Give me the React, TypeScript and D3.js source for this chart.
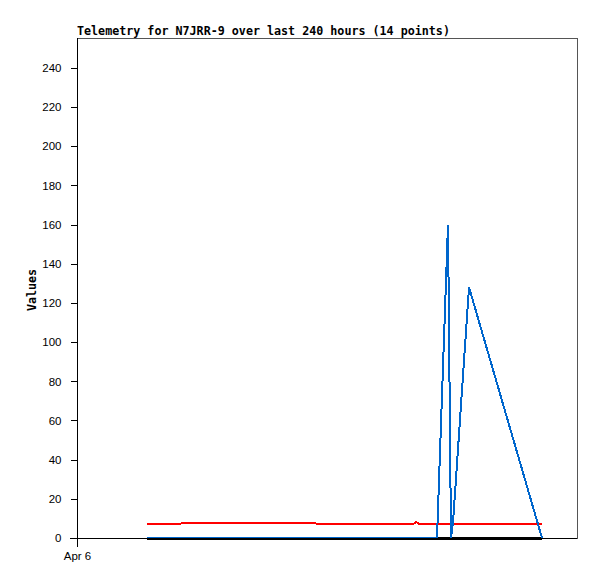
import * as d3 from "d3";
import React, { useEffect, useRef } from "react";

// sample times (local), 14 points
const times = [
  "2024-04-07T09:36", "2024-04-08T01:55", "2024-04-08T13:26", "2024-04-10T04:48",
  "2024-04-11T08:38", "2024-04-12T17:17", "2024-04-12T18:43", "2024-04-12T20:38",
  "2024-04-13T04:48", "2024-04-13T10:05", "2024-04-13T11:31", "2024-04-13T12:29",
  "2024-04-13T20:10", "2024-04-15T07:12",
];
const redValues = [6.9, 7.4, 7.9, 7.8, 7.0, 6.9, 8.3, 7.0, 6.9, 6.9, 6.9, 6.9, 6.9, 6.9];
const blueValues = [0, 0, 0, 0, 0, 0, 0, 0, 0, 160, 0, 8, 128, 0];
const blackValues = [0, 0, 0, 0, 0, 0, 0, 0, 0, 0, 0, 0, 0, 0];
const yTicks = [0, 20, 40, 60, 80, 100, 120, 140, 160, 180, 200, 220, 240];
const title = "Telemetry for N7JRR-9 over last 240 hours (14 points)";

const App = () => {
  const svgRef = useRef(null);
  const w = 597;
  const h = 579;
  const left = 77, right = 577, top = 38, bottom = 538;

  useEffect(() => {
    const svg = d3.select(svgRef.current);
    svg.selectAll("*").remove();

    const start = new Date(2024, 3, 6, 0, 0);
    const end = d3.timeHour.offset(start, 240);
    const x = d3.scaleTime().domain([start, end]).range([left, right]);
    const y = d3.scaleLinear().domain([0, 255.3]).range([bottom, top]);
    const dates = times.map((t) => new Date(t));

    // frame
    svg.append("rect")
      .attr("x", left + 0.5).attr("y", top + 0.5)
      .attr("width", right - left).attr("height", bottom - top)
      .attr("fill", "none").attr("stroke", "#555").attr("shape-rendering", "crispEdges");

    const line = d3.line<number>()
      .x((d, i) => x(dates[i]))
      .y((d) => y(d));

    const series = [
      { values: blackValues, color: "#000000", width: 3 },
      { values: redValues, color: "#ff0000", width: 2 },
      { values: blueValues, color: "#0066cc", width: 2 },
    ];
    series.forEach((s) => {
      svg.append("path")
        .datum(s.values)
        .attr("d", line)
        .attr("fill", "none")
        .attr("stroke", s.color)
        .attr("stroke-width", s.width)
        .attr("shape-rendering", "crispEdges");
    });

    // y axis
    const yAxis = d3.axisLeft(y).tickValues(yTicks).tickSize(7).tickSizeOuter(0).tickPadding(9);
    const gy = svg.append("g").attr("transform", `translate(${left + 0.5},0)`).call(yAxis);
    gy.select(".domain").attr("d", `M0,${top}V${bottom + 8}`);
    gy.selectAll("line").attr("shape-rendering", "crispEdges");
    gy.selectAll("path").attr("shape-rendering", "crispEdges");
    gy.selectAll("text")
      .attr("font-family", "Liberation Sans, Arial, sans-serif")
      .attr("font-size", 11.5).attr("fill", "#000");

    // x axis
    const xAxis = d3.axisBottom(x).tickValues([start]).tickFormat(() => "Apr 6")
      .tickSize(8).tickSizeOuter(0).tickPadding(5);
    const gx = svg.append("g").attr("transform", `translate(0,${bottom + 0.5})`).call(xAxis);
    gx.select(".domain").attr("d", `M${left - 7},0H${right}`);
    gx.selectAll("line").attr("shape-rendering", "crispEdges");
    gx.selectAll("path").attr("shape-rendering", "crispEdges");
    gx.selectAll("text")
      .attr("font-family", "Liberation Sans, Arial, sans-serif")
      .attr("font-size", 11.5).attr("fill", "#000");

    // title
    svg.append("text")
      .attr("x", left).attr("y", 35)
      .attr("font-family", "DejaVu Sans Mono, monospace")
      .attr("font-weight", "bold").attr("font-size", 11.7)
      .text(title);

    // y label
    svg.append("text")
      .attr("transform", `translate(36,${290}) rotate(-90)`)
      .attr("text-anchor", "middle")
      .attr("font-family", "DejaVu Sans Mono, monospace")
      .attr("font-weight", "bold").attr("font-size", 11.7)
      .text("Values");
  });

  return (
    <svg
      ref={svgRef}
      width={w}
      height={h}
      style={{ position: "absolute", left: 0, top: 0, background: "#fff" }}
    />
  );
};

export default App;
